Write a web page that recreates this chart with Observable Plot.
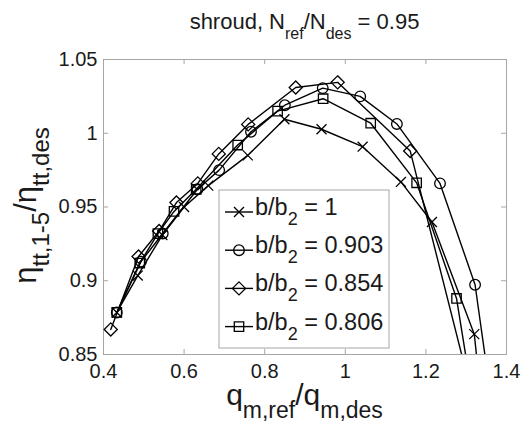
<!DOCTYPE html>
<html><head><meta charset="utf-8">
<script src="https://cdn.jsdelivr.net/npm/d3@7"></script>
<script src="https://cdn.jsdelivr.net/npm/@observablehq/plot@0.6"></script>
<style>body{margin:0;background:#fff;}</style>
</head><body><div id="chart"></div>
<script>
// ---- data ----
const xTicks = [0.4, 0.6, 0.8, 1, 1.2, 1.4];
const yTicks = [0.85, 0.9, 0.95, 1, 1.05];
const seriesLabels = ["1", "0.903", "0.854", "0.806"];

const q_b1    = [0.433, 0.485, 0.546, 0.600, 0.660, 0.758, 0.849, 0.941, 1.043, 1.138, 1.215, 1.320, 1.345];
const eta_b1  = [0.8785, 0.9035, 0.931, 0.950, 0.9645, 0.985, 1.0095, 1.0027, 0.9909, 0.967, 0.9398, 0.8638, 0.800];

const q_b903   = [0.433, 0.493, 0.547, 0.633, 0.687, 0.766, 0.850, 0.944, 1.037, 1.128, 1.235, 1.322, 1.372];
const eta_b903 = [0.8785, 0.913, 0.932, 0.962, 0.975, 1.001, 1.019, 1.0306, 1.025, 1.0063, 0.966, 0.8973, 0.800];

const q_b854   = [0.418, 0.487, 0.538, 0.581, 0.634, 0.686, 0.759, 0.877, 0.981, 1.161, 1.335];
const eta_b854 = [0.867, 0.9164, 0.9337, 0.953, 0.966, 0.986, 1.006, 1.031, 1.0345, 0.988, 0.800];

const q_b806   = [0.433, 0.490, 0.535, 0.575, 0.630, 0.733, 0.832, 0.945, 1.063, 1.177, 1.276, 1.328];
const eta_b806 = [0.8785, 0.912, 0.932, 0.947, 0.962, 0.992, 1.015, 1.0234, 1.0068, 0.9664, 0.888, 0.800];

// ---- styles ----
const symbols = ["times", "circle", "diamond2", "square2"];
const markerR = [4.6, 5.3, 5.9, 6.0];
const qs = [q_b1, q_b903, q_b854, q_b806];
const etas = [eta_b1, eta_b903, eta_b854, eta_b806];

const rows = seriesLabels.flatMap((lab, k) => qs[k].map((q, i) => ({label: lab, q, eta: etas[k][i]})));

const W = 523, H = 426, mL = 103, mR = 17, mT = 59, mB = 72;
const pw = W - mL - mR, ph = H - mT - mB;
const gray = "#a6a6a6";
const font = "'Liberation Sans', Arial, Helvetica, sans-serif";
const fmt = d => `${d}`;

const svg = Plot.plot({
  width: W, height: H,
  marginLeft: mL, marginRight: mR, marginTop: mT, marginBottom: mB,
  x: {domain: [0.4, 1.4]},
  y: {domain: [0.85, 1.05]},
  style: {fontFamily: font, background: "white", color: "#1a1a1a"},
  marks: [
    Plot.frame({stroke: gray}),
    Plot.tickX(xTicks, {x: d => d, stroke: gray, insetTop: ph - 5}),
    Plot.tickX(xTicks, {x: d => d, stroke: gray, insetBottom: ph - 5}),
    Plot.tickY(yTicks, {y: d => d, stroke: gray, insetRight: pw - 5}),
    Plot.tickY(yTicks, {y: d => d, stroke: gray, insetLeft: pw - 5}),
    Plot.axisX({ticks: xTicks, tickFormat: fmt, tickSize: 0, tickPadding: 9, fontSize: 20, label: null}),
    Plot.axisY({ticks: yTicks, tickFormat: fmt, tickSize: 0, tickPadding: 6, fontSize: 20, label: null}),
    Plot.line(rows, {x: "q", y: "eta", z: "label", stroke: "black", strokeWidth: 1.4, clip: true}),
    ...seriesLabels.map((lab, k) => Plot.dot(rows.filter(d => d.label === lab), {
      x: "q", y: "eta", symbol: symbols[k], r: markerR[k], stroke: "black", fill: "none", strokeWidth: 1.3, clip: true
    }))
  ]
});
document.getElementById("chart").appendChild(svg);

// ---- rich text helper (start-anchored, optionally centred by measurement) ----
const root = d3.select(svg);
function rich(sel, parts, size, subSize, shift, center) {
  sel.attr("text-anchor", "start").attr("font-family", font).attr("fill", "#1a1a1a").attr("font-size", size);
  let cur = 0;
  parts.forEach(p => {
    const target = p.sub ? shift : 0;
    sel.append("tspan")
      .attr("dy", target - cur)
      .attr("font-size", p.sub ? subSize : size)
      .text(p.t);
    cur = target;
  });
  if (center) {
    const len = sel.node().getComputedTextLength();
    sel.attr("x", -len / 2);
  }
}

// title
const title = root.append("g").attr("transform", `translate(${mL + pw / 2},29)`).append("text");
rich(title, [{t: "shroud, N"}, {t: "ref", sub: true}, {t: "/N"}, {t: "des", sub: true}, {t: " = 0.95"}], 22, 16, 10, true);

// x label
const xl = root.append("g").attr("transform", `translate(${mL + pw / 2},405)`).append("text");
rich(xl, [{t: "q"}, {t: "m,ref", sub: true}, {t: "/q"}, {t: "m,des", sub: true}], 30, 23, 13, true);

// y label
const yl = root.append("g").attr("transform", `translate(36,${mT + ph / 2 - 1}) rotate(-90)`).append("text");
rich(yl, [{t: "η"}, {t: "tt,1-5", sub: true}, {t: "/η"}, {t: "tt,des", sub: true}], 31, 24, 13, true);

// legend
const lg = root.append("g").attr("text-anchor", "start");
lg.append("rect").attr("x", 219).attr("y", 190).attr("width", 170).attr("height", 158)
  .attr("fill", "white").attr("stroke", gray);
const symMap = {times: d3.symbolTimes, circle: d3.symbolCircle, diamond2: d3.symbolDiamond2, square2: d3.symbolSquare2};
seriesLabels.forEach((lab, k) => {
  const yy = 212 + k * 38.2;
  lg.append("line").attr("x1", 225).attr("x2", 253).attr("y1", yy).attr("y2", yy)
    .attr("stroke", "black").attr("stroke-width", 1.4);
  lg.append("path").attr("transform", `translate(239,${yy})`)
    .attr("d", d3.symbol(symMap[symbols[k]], Math.PI * markerR[k] * markerR[k])())
    .attr("fill", "none").attr("stroke", "black").attr("stroke-width", 1.3);
  const t = lg.append("text").attr("x", 255).attr("y", yy + 3);
  rich(t, [{t: "b/b"}, {t: "2", sub: true}, {t: " = " + lab}], 23.5, 18, 10, false);
});
</script>
</body></html>
